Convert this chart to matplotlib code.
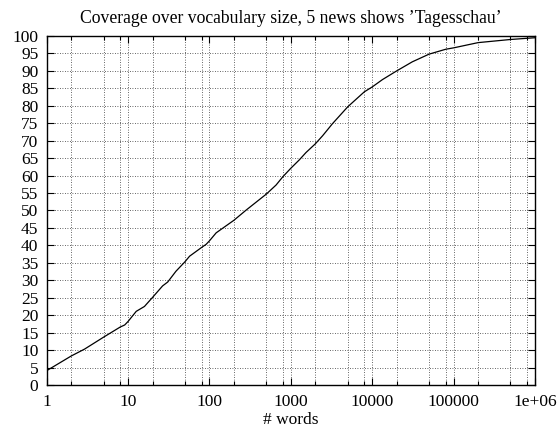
import matplotlib
matplotlib.use("Agg")
import matplotlib.pyplot as plt
from matplotlib.ticker import FixedLocator, NullFormatter

words = [1, 2, 2.93, 5, 8, 9.1, 10, 12.6, 15.9, 20, 26.6, 30.7, 38.8, 50, 57, 80, 91, 100,
         121, 200, 282, 500, 659, 800, 1000, 1271, 1535, 2000, 2455, 3257, 5000, 8000,
         10000, 13350, 20000, 31100, 50000, 80000, 100000, 200000, 500000, 1000000]
coverage = [4.1, 8.3, 10.3, 13.7, 16.6, 17.2, 18.2, 21.1, 22.5, 25.1, 28.4, 29.5, 32.6, 35.3,
            36.9, 39.4, 40.3, 41.3, 43.6, 47.2, 50.1, 54.7, 57.3, 59.7, 62.1, 64.5, 66.6,
            69.1, 71.4, 74.9, 79.7, 84.0, 85.4, 87.5, 90.0, 92.6, 94.8, 96.2, 96.6, 98.1,
            99.0, 99.5]
xtick_vals = [1, 10, 100, 1000, 10000, 100000, 1000000]
xtick_labels = ["1", "10", "100", "1000", "10000", "100000", "1e+06"]
ytick_vals = list(range(0, 101, 5))
minor_mult = [2, 5, 8]

plt.rcParams['font.family'] = ['Liberation Serif', 'DejaVu Serif']
FS = 12.5

fig = plt.figure(figsize=(5.59, 4.28), dpi=100)
ax = fig.add_axes([0.0835, 0.1005, 0.957 - 0.0835, 0.9159 - 0.1005])

ax.plot(words, coverage, color='black', linewidth=0.9)
ax.set_xscale('log')
ax.set_xlim(1, 1e6)
ax.set_ylim(0, 100)

ax.xaxis.set_major_locator(FixedLocator(xtick_vals))
ax.set_xticks(xtick_vals)
ax.set_xticklabels(xtick_labels)
minors = [m * d for d in xtick_vals[:-1] for m in minor_mult]
ax.xaxis.set_minor_locator(FixedLocator(minors))
ax.xaxis.set_minor_formatter(NullFormatter())
ax.set_yticks(ytick_vals)
ax.set_yticklabels([str(v) for v in ytick_vals])

ax.grid(True, which='both', axis='x', linestyle=(0, (1, 2)), color='#333333', linewidth=0.6)
ax.grid(True, which='major', axis='y', linestyle=(0, (1, 2)), color='#333333', linewidth=0.6)

ax.tick_params(which='major', direction='in', length=5, width=0.8, top=True, right=True,
               labelsize=FS)
ax.tick_params(which='minor', direction='in', length=3, width=0.8, top=True, right=True)
ax.tick_params(axis='x', which='major', pad=6.5)
ax.tick_params(axis='y', which='major', pad=6)
for s in ax.spines.values():
    s.set_linewidth(1.0)

ax.set_title("Coverage over vocabulary size, 5 news shows \u2019Tagesschau\u2019", fontsize=12.7, pad=9)
ax.set_xlabel("# words", fontsize=FS)
ax.xaxis.set_label_coords(0.5, -0.122)
ax.xaxis.label.set_verticalalignment('bottom')

fig.savefig("out.png", dpi=100)
